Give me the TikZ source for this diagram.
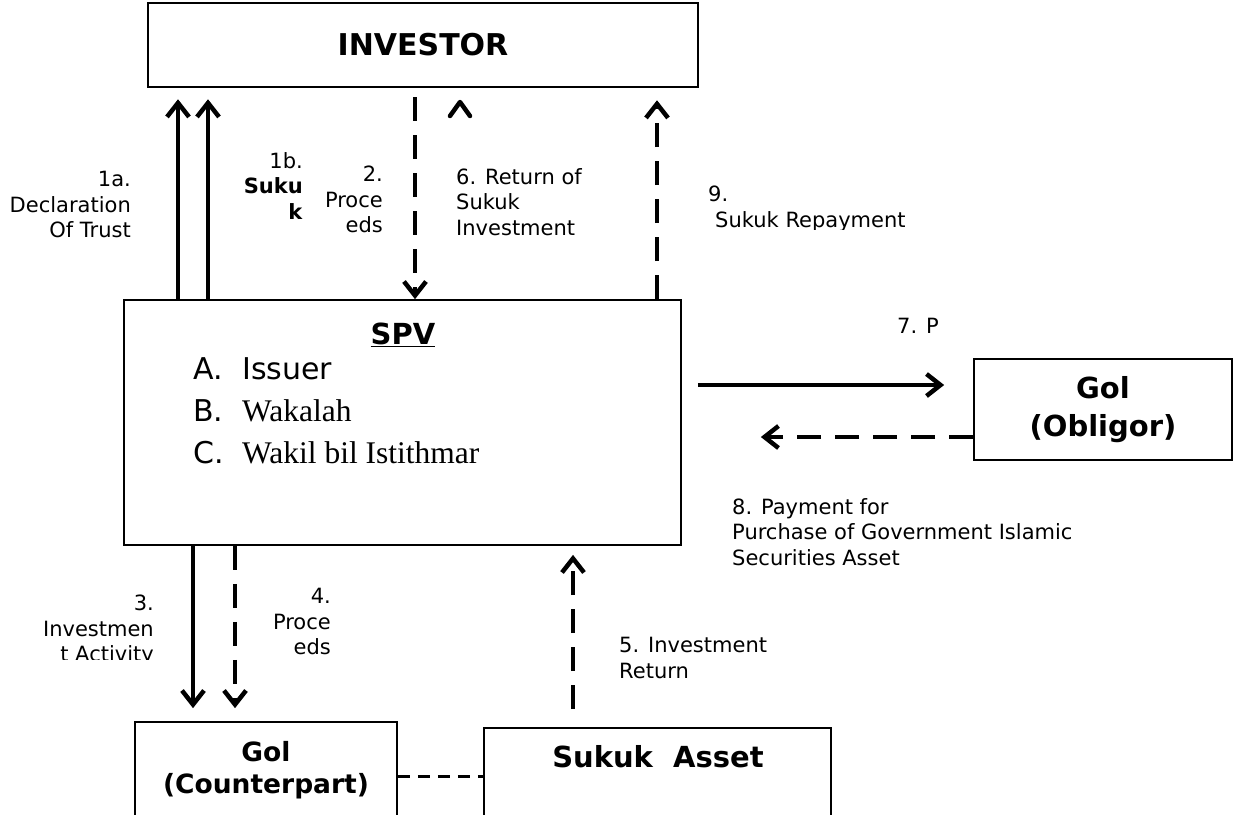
\documentclass[tikz,border=0pt]{standalone}
\usepackage{fontspec}
\setmainfont{DejaVu Sans}
\newfontfamily\tnr{Liberation Serif}
\usetikzlibrary{arrows.meta}
\begin{document}
\begin{tikzpicture}[x=1pt,y=-1pt,
  frame/.style={draw, line width=1.7pt, inner sep=0pt},
  lbl/.style={font=\fontsize{21}{25.5}\selectfont, inner sep=0pt},
  ttl/.style={font=\fontsize{29}{38}\selectfont\bfseries, inner sep=0pt, align=center},
  arr/.style={line width=4.5pt, -{Straight Barb[length=14pt,width=22pt,line width=4.5pt]}},
  darr/.style={arr, dash pattern=on 24pt off 14pt},
  caret/.style={line width=4.5pt, line cap=round, line join=round},
  link/.style={line width=3pt, dash pattern=on 12pt off 8pt}]
\useasboundingbox (0,0) rectangle (1234,814);
\clip (0,0) rectangle (1234,814);

% boxes
\node[frame, ttl, font=\fontsize{30}{38}\selectfont\bfseries, line width=2.5pt, minimum width=550pt, minimum height=84pt] (inv) at (423,45) {INVESTOR};
\node[frame, minimum width=557pt, minimum height=245pt] (spv) at (402.5,422.5) {};
\node[font=\fontsize{29}{34}\selectfont\bfseries, inner sep=0pt, anchor=base] (spvt) at (403,344) {\underline{SPV}};
\node[font=\fontsize{30}{42}\selectfont, inner sep=0pt, align=left, anchor=north west] (spvl) at (193,357)
  {\makebox[49pt][l]{A.}Issuer\\ \makebox[49pt][l]{B.}{\tnr\fontsize{31.5}{42}\selectfont Wakalah}\\ \makebox[49pt][l]{C.}{\tnr\fontsize{31.5}{42}\selectfont Wakil bil Istithmar}};
\node[frame, ttl, minimum width=258pt, minimum height=101pt] (obl) at (1103,409.5) {Gol\\(Obligor)};
\node[frame, minimum width=262pt, minimum height=110pt] (cp) at (266,777) {};
\node[ttl, font=\fontsize{26.5}{32}\selectfont\bfseries, anchor=north] (cpt) at (266,741) {Gol\\(Counterpart)};
\node[frame, minimum width=347pt, minimum height=104pt] (sa) at (657.5,780) {};
\node[ttl, anchor=base] (sat) at (658,767) {Sukuk\ \ Asset};

% connectors
\draw[arr, shorten >=11pt] (178,0 |- spv.north) -- (178,0 |- inv.south);
\draw[arr, shorten >=11pt] (208,0 |- spv.north) -- (208,0 |- inv.south);
\draw[darr, shorten <=9pt] (415,0 |- inv.south) -- (415,0 |- spv.north);
\coordinate (c6l) at (450,116);
\coordinate (c6t) at (460,102);
\coordinate (c6r) at (470,116);
\draw[caret] (c6l) -- (c6t) -- (c6r);
\draw[darr, shorten >=12pt] (657,0 |- spv.north) -- (657,0 |- inv.south);
\draw[arr, shorten <=16pt, shorten >=29pt] (spv.east |- 0,385) -- (obl.west |- 0,385);
\draw[darr, shorten >=79pt] (obl.west |- 0,437) -- (spv.east |- 0,437);
\draw[arr, shorten >=13pt] (193,0 |- spv.south) -- (193,0 |- cp.north);
\draw[darr, shorten >=13pt] (235,0 |- spv.south) -- (235,0 |- cp.north);
\draw[darr, shorten <=18pt, shorten >=9pt] (573,0 |- sa.north) -- (573,0 |- spv.south);
\draw[link] (cp.east |- 0,776) -- (sa.west |- 0,776);

% labels
\node[lbl, align=right, anchor=north east] (l1a) at (131,171) {1a.\\Declaration\\Of Trust};
\node[lbl, align=right, anchor=north east] (l1b) at (303,152) {1b.\\\textbf{Suku}\\\textbf{k}};
\node[lbl, align=right, anchor=north east] (l2) at (383,166) {2.\\Proce\\eds};
\node[lbl, align=left, anchor=north west] (l6) at (456,168) {6. Return of\\Sukuk\\Investment};
\begin{scope}
\clip (690,150) rectangle (1000,229);
\node[lbl, align=left, anchor=north west] (l9) at (708,186) {9.\\\hspace*{7pt}Sukuk Repayment};
\end{scope}
\node[lbl, anchor=north west] (l7) at (897,318) {7. P};
\node[lbl, align=left, anchor=north west] (l8) at (732,498) {8. Payment for\\Purchase of Government Islamic\\Securities Asset};
\begin{scope}
\clip (0,560) rectangle (180,659);
\node[lbl, align=right, anchor=north east] (l3) at (154,595) {3.\\Investmen\\t Activity};
\end{scope}
\node[lbl, align=right, anchor=north east] (l4) at (331,588) {4.\\Proce\\eds};
\node[lbl, align=left, anchor=north west] (l5) at (619,637) {5. Investment\\Return};
\end{tikzpicture}
\end{document}
